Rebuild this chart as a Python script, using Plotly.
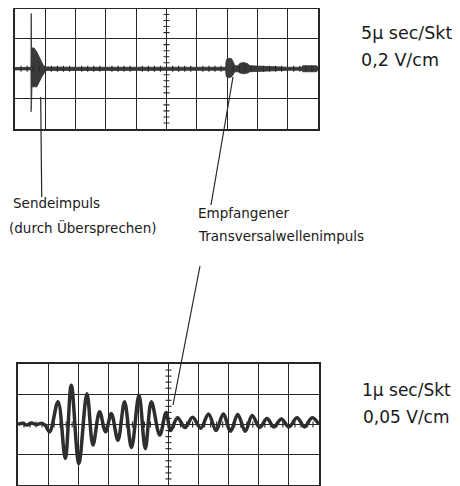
import plotly.graph_objects as go

W, H = 460, 486
OFF = 8  # browser default body margin

# ---------- Data (in screen divisions) ----------
# Upper oscillogram: envelope of trace (5 µs/Skt, 0.2 V/cm)
top_x = [0.0, 0.50, 0.525, 0.53, 0.54, 0.545, 0.56, 0.63, 0.72, 0.77, 0.83, 0.88, 0.93, 0.99, 1.05,
         2.0, 3.0, 4.0, 5.0, 6.0, 6.95, 6.97, 7.02, 7.15, 7.20, 7.26, 7.36, 7.42, 7.55, 7.68, 7.75, 8.3, 9.0, 9.45, 9.5,
         9.95, 10.0]
top_upper = [0.04, 0.04, 0.05, 1.83, 1.83, 0.69, 0.69, 0.69, 0.56, 0.45, 0.34, 0.22, 0.12, 0.08, 0.06,
             0.05, 0.05, 0.05, 0.05, 0.05, 0.05, 0.28, 0.35, 0.33, 0.22, 0.10, 0.10, 0.18, 0.21, 0.17, 0.10, 0.07, 0.05, 0.05, 0.10,
             0.10, 0.05]
top_lower = [-0.04, -0.04, -0.05, -1.43, -1.43, -1.2, -0.60, -0.60, -0.60, -0.49, -0.38, -0.27, -0.18, -0.11, -0.06,
             -0.05, -0.05, -0.05, -0.05, -0.05, -0.05, -0.25, -0.30, -0.27, -0.18, -0.10, -0.10, -0.14, -0.17, -0.14, -0.10, -0.07, -0.05, -0.05, -0.10,
             -0.10, -0.05]

# Lower oscillogram: extrema of trace (1 µs/Skt, 0.05 V/cm)
bot_x = [0.0, 0.15, 0.3, 0.45, 0.6, 0.75, 0.9, 1.05, 1.33, 1.57, 1.77, 2.02, 2.29, 2.49, 2.71, 2.91,
         3.10, 3.32, 3.54, 3.77, 4.02, 4.23, 4.43, 4.71, 4.92, 5.07, 5.30, 5.55, 5.80, 6.07, 6.33, 6.58,
         6.82, 7.06, 7.30, 7.55, 7.78, 8.03, 8.27, 8.50, 8.75, 9.00, 9.27, 9.52, 9.77, 10.0]
bot_y = [0.0, 0.04, -0.02, 0.05, 0.0, 0.03, -0.02, -0.24, 0.75, -1.12, 1.30, -1.29, 1.02, -0.68, 0.42, -0.24,
         0.36, -0.52, 0.75, -0.76, 0.97, -0.80, 0.75, -0.35, 0.40, -0.20, 0.22, -0.10, 0.24, -0.12, 0.35, -0.20,
         0.35, -0.22, 0.33, -0.22, 0.30, -0.10, 0.20, -0.08, 0.18, -0.08, 0.22, -0.08, 0.22, 0.0]

top_labels = ["5\u03bc sec/Skt", "0,2 V/cm"]
bot_labels = ["1\u03bc sec/Skt", "0,05 V/cm"]
note_send = ["Sendeimpuls", "(durch \u00dcbersprechen)"]
note_recv = ["Empfangener", "Transversalwellenimpuls"]

# ---------- helpers ----------
FW, FH = W - OFF, H - OFF

def px(x):
    return (x - OFF) / FW

def py(y):
    return 1 - (y - OFF) / FH

INK = "#262626"
FONT = "DejaVu Sans, sans-serif"

fig = go.Figure()

fig.add_trace(go.Scatter(
    x=top_x + top_x[::-1], y=top_upper + top_lower[::-1],
    mode="lines", fill="toself", fillcolor="#3a3a3a",
    line=dict(color="#333333", width=0.8),
    xaxis="x", yaxis="y", hoverinfo="skip", showlegend=False))

fig.add_trace(go.Scatter(
    x=bot_x, y=bot_y, mode="lines",
    line=dict(color="#2e2e2e", width=3.5, shape="spline", smoothing=1.0),
    xaxis="x2", yaxis="y2", hoverinfo="skip", showlegend=False))

ax_common = dict(showgrid=True, gridcolor=INK, gridwidth=1.2, showline=True, mirror=True,
                 linecolor=INK, linewidth=1.6, showticklabels=False, zeroline=False, ticks="",
                 fixedrange=True)

fig.update_layout(
    width=FW, height=FH, margin=dict(l=0, r=0, t=0, b=0),
    paper_bgcolor="white", plot_bgcolor="white", showlegend=False,
    xaxis=dict(domain=[px(15), px(318)], range=[0, 10], dtick=1, anchor="y", **ax_common),
    yaxis=dict(domain=[py(129), py(8.5)], range=[-2, 2], dtick=1, anchor="x", **ax_common),
    xaxis2=dict(domain=[px(18), px(319)], range=[0, 10], dtick=1, anchor="y2", **ax_common),
    yaxis2=dict(domain=[max(0, py(485)), py(364)], range=[-2, 2], dtick=1, anchor="x2", **ax_common),
)

# graticule minor ticks on centre lines
shapes = []
for xr, yr in (("x", "y"), ("x2", "y2")):
    for k in range(1, 50):
        if k % 5:
            shapes.append(dict(type="line", xref=xr, yref=yr, x0=k * 0.2, x1=k * 0.2, y0=-0.1, y1=0.1,
                               line=dict(color=INK, width=1.1)))
    for k in range(1, 20):
        if k % 5:
            shapes.append(dict(type="line", xref=xr, yref=yr, x0=4.9, x1=5.1, y0=-2 + k * 0.2, y1=-2 + k * 0.2,
                               line=dict(color=INK, width=1.1)))

# pointer lines
for (x0, y0, x1, y1) in [(40.7, 97, 41.7, 197), (233, 77, 211, 205), (200, 266, 173, 405)]:
    shapes.append(dict(type="line", xref="paper", yref="paper", x0=px(x0), y0=py(y0), x1=px(x1), y1=py(y1),
                       line=dict(color=INK, width=1.2)))
fig.update_layout(shapes=shapes)

def txt(s, x, y, size=13):
    fig.add_annotation(text=s, x=px(x), y=py(y), xref="paper", yref="paper", xanchor="left",
                       yanchor="middle", showarrow=False, font=dict(family=FONT, size=size, color="#1a1a1a"))

txt(top_labels[0], 359, 33, 17.5)
txt(top_labels[1], 359, 60, 17.5)
txt(bot_labels[0], 360, 390, 17)
txt(bot_labels[1], 361, 417, 17)
txt(note_send[0], 11, 203, 13.5)
txt(note_send[1], 7, 227, 13.5)
txt(note_recv[0], 196, 213, 13.5)
txt(note_recv[1], 196, 236, 13.5)

fig.write_html("out.html")
